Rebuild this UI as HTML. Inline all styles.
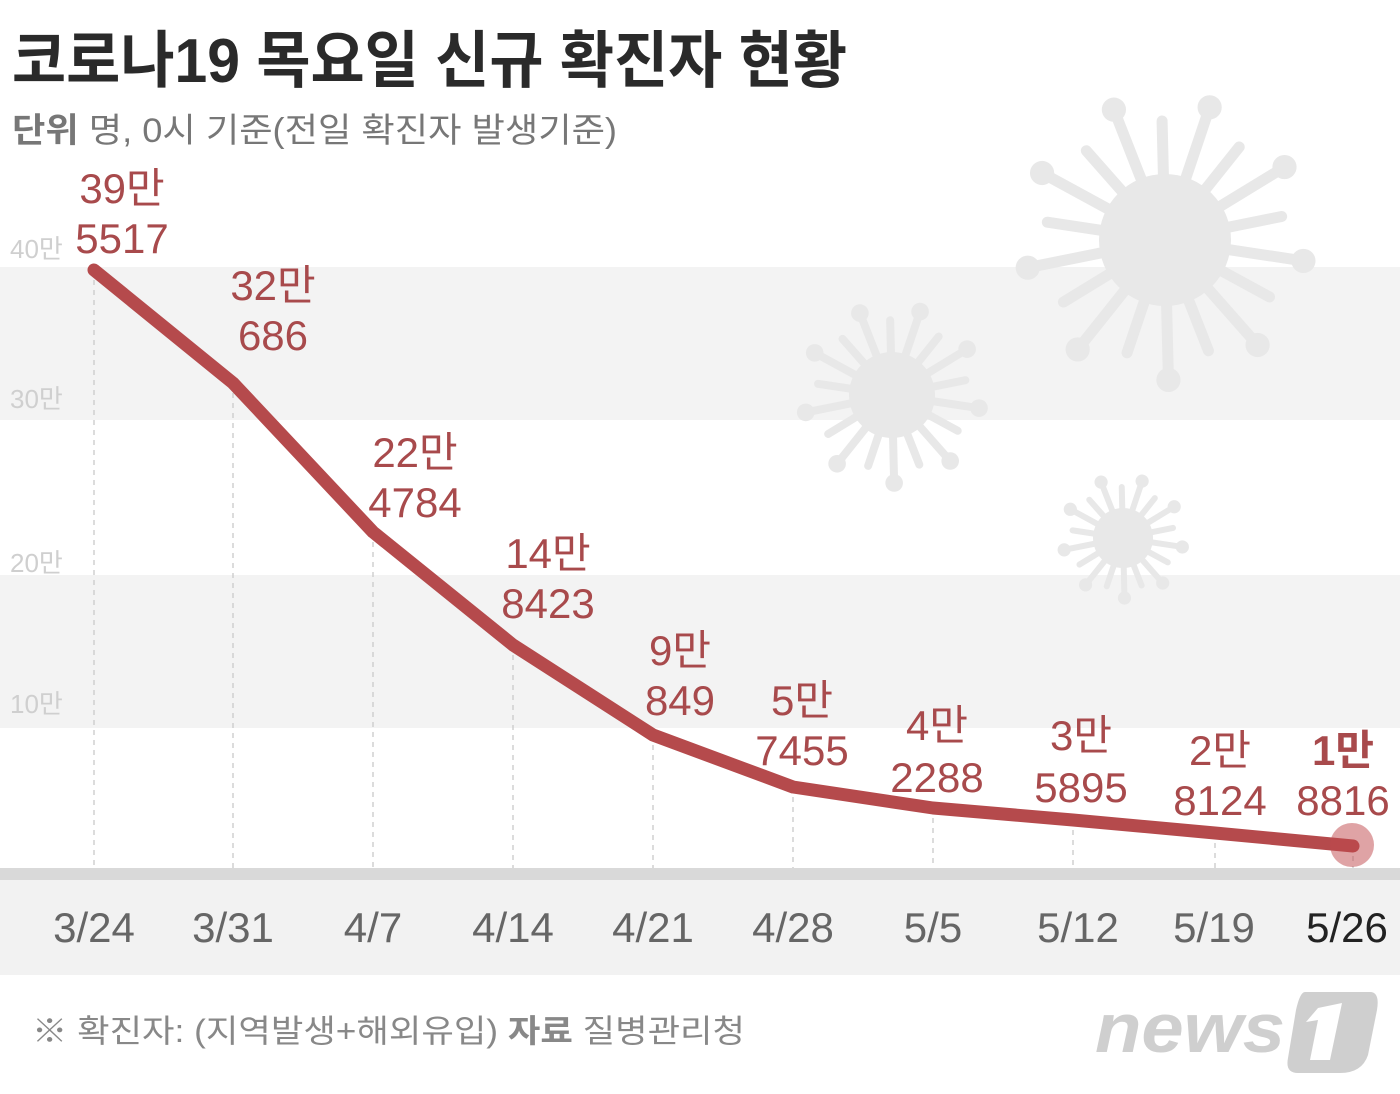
<!DOCTYPE html>
<html><head><meta charset="utf-8"><style>
html,body{margin:0;padding:0;background:#fff;}
svg{display:block;}
text{font-family:"Liberation Sans Narrow","Liberation Sans","Noto Sans CJK KR",sans-serif;}
.k{font-family:"Liberation Sans","Noto Sans CJK KR",sans-serif;}
</style></head><body>
<svg id="s" width="1400" height="1094" viewBox="0 0 1400 1094" xmlns="http://www.w3.org/2000/svg">
<rect x="0" y="0" width="1400" height="1094" fill="#fff"/>
<rect x="0" y="267" width="1400" height="153" fill="#f3f3f3"/>
<rect x="0" y="575" width="1400" height="153" fill="#f3f3f3"/>
<g id="v" fill="#e8e8e8" stroke="#e8e8e8" stroke-linecap="round"></g>
<rect x="0" y="868" width="1400" height="12" fill="#d9d9d9"/>
<rect x="0" y="880" width="1400" height="95" fill="#f2f2f2"/>
<g stroke="#d0d0d0" stroke-width="1.5" stroke-dasharray="5,5">
<line x1="94" y1="270" x2="94" y2="868"/><line x1="233" y1="383" x2="233" y2="868"/>
<line x1="373" y1="532" x2="373" y2="868"/><line x1="513" y1="645" x2="513" y2="868"/>
<line x1="653" y1="735" x2="653" y2="868"/><line x1="793" y1="787" x2="793" y2="868"/>
<line x1="933" y1="808" x2="933" y2="868"/><line x1="1073" y1="820" x2="1073" y2="868"/>
<line x1="1215" y1="833" x2="1215" y2="868"/><line x1="1353" y1="846" x2="1353" y2="868"/>
</g>
<polyline points="94,270 233,383 373,532 513,645 653,735 793,787 933,808 1073,820 1215,833 1353,846" fill="none" stroke="#b54a4c" stroke-width="13" stroke-linejoin="round" stroke-linecap="round"/>
<circle cx="1352" cy="845" r="22" fill="#c0484c" opacity="0.5"/>
<text class="k" x="12" y="82" font-size="62" font-weight="bold" fill="#2a2a2a" textLength="835" lengthAdjust="spacingAndGlyphs">코로나19 목요일 신규 확진자 현황</text>
<text class="k" x="12" y="142" font-size="34" fill="#777" textLength="605" lengthAdjust="spacingAndGlyphs"><tspan font-weight="bold">단위</tspan>  명, 0시 기준(전일 확진자 발생기준)</text>
<g class="k" font-size="26" fill="#cfcfcf">
<text x="10" y="258">40만</text><text x="10" y="408">30만</text><text x="10" y="572">20만</text><text x="10" y="713">10만</text>
</g>
<g font-size="42" fill="#a84a4c" text-anchor="middle">
<text x="122" y="203">39만</text><text x="122" y="253">5517</text>
<text x="273" y="300">32만</text><text x="273" y="350">686</text>
<text x="415" y="467">22만</text><text x="415" y="517">4784</text>
<text x="548" y="568">14만</text><text x="548" y="618">8423</text>
<text x="680" y="665">9만</text><text x="680" y="715">849</text>
<text x="802" y="715">5만</text><text x="802" y="765">7455</text>
<text x="937" y="740">4만</text><text x="937" y="792">2288</text>
<text x="1081" y="750">3만</text><text x="1081" y="802">5895</text>
<text x="1220" y="765">2만</text><text x="1220" y="815">8124</text>
<text x="1343" y="765" font-weight="bold">1만</text><text x="1343" y="815">8816</text>
</g>
<g font-size="42" fill="#666" text-anchor="middle">
<text x="94" y="942">3/24</text><text x="233" y="942">3/31</text><text x="373" y="942">4/7</text>
<text x="513" y="942">4/14</text><text x="653" y="942">4/21</text><text x="793" y="942">4/28</text>
<text x="933" y="942">5/5</text><text x="1078" y="942">5/12</text><text x="1214" y="942">5/19</text>
<text x="1347" y="942" fill="#222">5/26</text>
</g>
<text class="k" x="32" y="1042" font-size="32" fill="#888" textLength="713" lengthAdjust="spacingAndGlyphs">※ 확진자: (지역발생+해외유입)  <tspan font-weight="bold">자료</tspan>  질병관리청</text>
<text x="1095" y="1052" font-size="70" font-weight="bold" font-style="italic" fill="#cfcfcf" font-family="Liberation Sans,sans-serif" textLength="190" lengthAdjust="spacingAndGlyphs">news</text>
<path d="M1305,992 L1370,992 Q1380,992 1377,1010 L1368,1055 Q1362,1073 1340,1073 L1298,1073 Q1285,1073 1288,1058 L1296,1010 Q1300,992 1305,992 Z" fill="#cfcfcf"/>
<path d="M1318,1008 L1342,1003 L1330,1060 L1310,1060 L1318,1020 L1306,1022 Z" fill="#fff"/>
</svg>
<script>
(function(){
var g=document.getElementById('v'),ns='http://www.w3.org/2000/svg';
function virus(cx,cy,r,L,sw,n){
 var c=document.createElementNS(ns,'circle');c.setAttribute('cx',cx);c.setAttribute('cy',cy);c.setAttribute('r',r);c.setAttribute('stroke','none');g.appendChild(c);
 for(var i=0;i<n;i++){var a=i*2*Math.PI/n+0.15;var len=(i%2?L*0.85:L);
  var l=document.createElementNS(ns,'line');l.setAttribute('x1',cx);l.setAttribute('y1',cy);
  var x2=cx+Math.cos(a)*len,y2=cy+Math.sin(a)*len;l.setAttribute('x2',x2);l.setAttribute('y2',y2);l.setAttribute('stroke-width',sw);g.appendChild(l);
  if(i%2==0){var d=document.createElementNS(ns,'circle');d.setAttribute('cx',x2);d.setAttribute('cy',y2);d.setAttribute('r',sw*1.1);d.setAttribute('stroke','none');g.appendChild(d);}
 }}
virus(1165,240,66,140,11,18);
virus(892,395,43,88,8,18);
virus(1123,538,30,60,6,18);
})();
</script>
</body></html>
